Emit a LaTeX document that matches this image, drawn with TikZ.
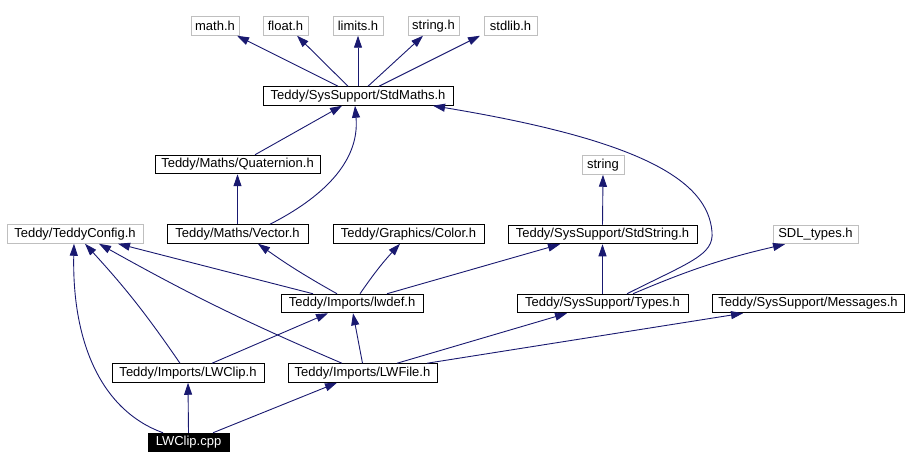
\documentclass[tikz,border=0pt]{standalone}
\usepackage{fontspec}
\setmainfont{Liberation Sans}
\usetikzlibrary{arrows.meta}
\definecolor{edgeblue}{HTML}{191970}
\definecolor{boxgray}{HTML}{BFBFBF}
\tikzset{
  base/.style={draw, line width=1pt, inner sep=0pt, minimum height=18.5pt, font=\fontsize{13}{15}\selectfont, anchor=center},
  incbox/.style={base, draw=black},
  extbox/.style={base, draw=boxgray},
  rootbox/.style={base, draw=black, fill=black, text=white},
  dep/.style={draw=edgeblue, line width=0.9pt, -{Triangle[length=12pt,width=8pt]}, shorten >=0pt}
}
\begin{document}
\begin{tikzpicture}[x=1pt,y=-1pt]
\useasboundingbox (0,0) rectangle (909,470);
% top row
\node[extbox, minimum width=48pt] (math) at (215,26) {math.h};
\node[extbox, minimum width=45pt] (float) at (285.5,26) {float.h};
\node[extbox, minimum width=50pt] (limits) at (358,26) {limits.h};
\node[extbox, minimum width=51pt] (stringh) at (433.5,26) {string.h};
\node[extbox, minimum width=53pt] (stdlib) at (510.5,26) {stdlib.h};
\node[incbox, minimum width=190pt] (stdmaths) at (358,96) {Teddy/SysSupport/StdMaths.h};
\node[incbox, minimum width=165pt] (quat) at (237.5,164.5) {Teddy/Maths/Quaternion.h};
\node[extbox, minimum width=42pt] (string) at (603,165) {string};
\node[extbox, minimum width=136pt] (tc) at (75,234) {Teddy/TeddyConfig.h};
\node[incbox, minimum width=141pt] (vector) at (237.5,234) {Teddy/Maths/Vector.h};
\node[incbox, minimum width=151pt] (color) at (408.5,234) {Teddy/Graphics/Color.h};
\node[incbox, minimum width=189pt] (stdstring) at (602.5,234.5) {Teddy/SysSupport/StdString.h};
\node[extbox, minimum width=85pt] (sdl) at (815.5,234.5) {SDL\_types.h};
\node[incbox, minimum width=142pt] (lwdef) at (352,303.5) {Teddy/Imports/lwdef.h};
\node[incbox, minimum width=171pt] (types) at (602.5,303.5) {Teddy/SysSupport/Types.h};
\node[incbox, minimum width=192pt] (msgs) at (808,303.5) {Teddy/SysSupport/Messages.h};
\node[incbox, minimum width=152pt] (lwcliph) at (188,373) {Teddy/Imports/LWClip.h};
\node[incbox, minimum width=149pt] (lwfile) at (362.5,373) {Teddy/Imports/LWFile.h};
\node[rootbox, minimum width=81pt] (cpp) at (188.5,442.5) {LWClip.cpp};
% StdMaths deps
\draw[dep] ([xshift=-20pt]stdmaths.north) -- ([xshift=22pt]math.south);
\draw[dep] ([xshift=-10pt]stdmaths.north) -- ([xshift=11.5pt]float.south);
\draw[dep] (stdmaths.north) -- (limits.south);
\draw[dep] ([xshift=10pt]stdmaths.north) -- ([xshift=-10.5pt]stringh.south);
\draw[dep] ([xshift=21pt]stdmaths.north) -- ([xshift=-30.5pt]stdlib.south);
% maths
\draw[dep] ([xshift=17.5pt]quat.north) -- ([xshift=-16pt]stdmaths.south);
\draw[dep] ([xshift=32.5pt]vector.north) to[out=27,in=-85] ([xshift=-3pt]stdmaths.south);
\draw[dep] (vector.north) -- (quat.south);
\draw[dep] ([xshift=24.5pt]types.north) .. controls (690,262) and (714,255) .. (712,232)
  .. controls (708,180) and (640,140) .. ([xshift=75pt]stdmaths.south);
% strings
\draw[dep] (stdstring.north) -- (string.south);
\draw[dep] (types.north) -- (stdstring.south);
\draw[dep] ([xshift=30.5pt]types.north) to[bend left=5] ([xshift=-30.5pt]sdl.south);
% lwdef
\draw[dep] ([xshift=-39pt]lwdef.north) -- ([xshift=43pt]tc.south);
\draw[dep] ([xshift=-15pt]lwdef.north) to[bend left=3] ([xshift=20.5pt]vector.south);
\draw[dep] ([xshift=8pt]lwdef.north) to[bend left=4] ([xshift=-8.5pt]color.south);
\draw[dep] ([xshift=35pt]lwdef.north) -- ([xshift=-42.5pt]stdstring.south);
% LWClip.h
\draw[dep] ([xshift=-8pt]lwcliph.north) to[bend right=4] ([xshift=10pt]tc.south);
\draw[dep] ([xshift=24pt]lwcliph.north) -- ([xshift=-24pt]lwdef.south);
% LWFile
\draw[dep] ([xshift=-20.5pt]lwfile.north) to[bend left=3] ([xshift=24pt]tc.south);
\draw[dep] (lwfile.north) -- ([xshift=1pt]lwdef.south);
\draw[dep] ([xshift=34.5pt]lwfile.north) -- ([xshift=-35.5pt]types.south);
\draw[dep] ([xshift=64.5pt]lwfile.north) -- ([xshift=-65pt]msgs.south);
% LWClip.cpp
\draw[dep] ([xshift=-25.5pt]cpp.north) .. controls (100,410) and (72,340) .. ([xshift=-1pt]tc.south);
\draw[dep] (cpp.north) -- (lwcliph.south);
\draw[dep] ([xshift=24.5pt]cpp.north) -- ([xshift=-25.5pt]lwfile.south);
\end{tikzpicture}
\end{document}
